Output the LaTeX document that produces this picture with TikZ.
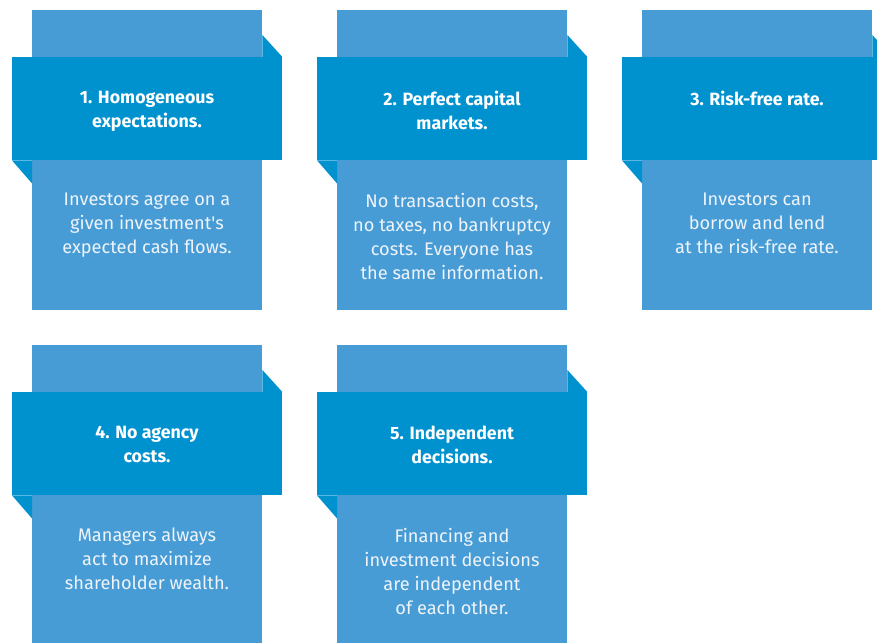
\documentclass[tikz,border=0pt]{standalone}
\usepackage{fontspec}
\setmainfont{Fira Sans}
\definecolor{lightblue}{HTML}{489CD5}
\definecolor{bandblue}{HTML}{0092CF}
\definecolor{bodytext}{HTML}{EEF4FA}
\tikzset{
  lightbox/.style={fill=lightblue, draw=none, inner sep=0pt, minimum width=230pt, minimum height=300pt, anchor=north west},
  bandbox/.style={fill=bandblue, draw=none, inner sep=0pt, minimum width=270pt, minimum height=103pt, anchor=north west},
  titletext/.style={text=white, font=\fontsize{17.8}{24}\selectfont\bfseries, align=center, anchor=north, inner sep=0pt},
  bodytext/.style={text=bodytext, font=\fontsize{18.2}{24}\selectfont, align=center, anchor=north, inner sep=0pt},
}
\newcommand{\mycard}[5]{%
  % #1 x, #2 y, #3 name, #4 title, #5 body
  \node[lightbox] (#3l) at (#1,#2) {};
  \node[bandbox] (#3b) at (#1-20,#2+47) {};
  \fill[bandblue] (#3l.north east) ++(0,25) -- (#3b.north east) -- (#3b.north east -| #3l.east) -- cycle;
  \fill[bandblue] (#3b.south west) -- (#3b.south west -| #3l.west) -- ++(0,23) -- cycle;
  \node[titletext] (#3t) at (#1+115,#2+81) {#4};
  \node[bodytext] (#3d) at (#1+115,#2+183) {#5};
}
\begin{document}
\begin{tikzpicture}[x=1pt,y=-1pt]
\useasboundingbox (0,0) rectangle (877,642);
\clip (0,0) rectangle (877,642);
\fill[white] (0,0) rectangle (877,642);
\mycard{32}{10}{a}{1. Homogeneous\\expectations.}{Investors agree on a\\given investment\textquotesingle s\\expected cash flows.}
\mycard{337}{10}{b}{2. Perfect capital\\markets.}{No transaction costs,\\no taxes, no bankruptcy\\costs. Everyone has\\the same information.}
\mycard{642}{10}{c}{3. Risk-free rate.}{Investors can\\borrow and lend\\at the risk-free rate.}
\mycard{32}{345}{d}{4. No agency\\costs.}{Managers always\\act to maximize\\shareholder wealth.}
\mycard{337}{345}{e}{5. Independent\\decisions.}{Financing and\\investment decisions\\are independent\\of each other.}
\end{tikzpicture}
\end{document}
